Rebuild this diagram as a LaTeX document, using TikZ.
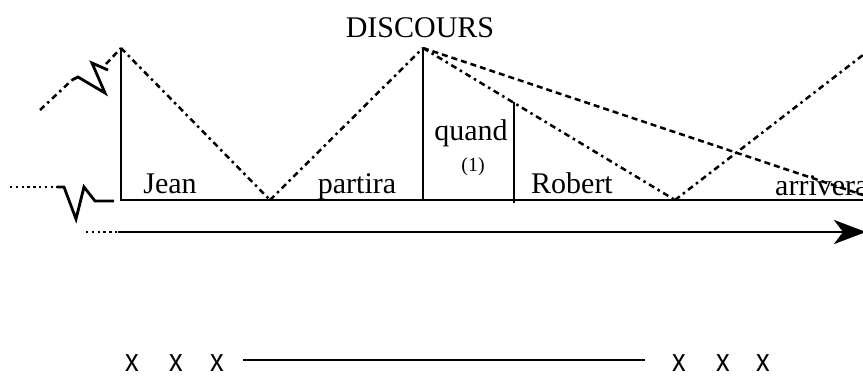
\documentclass[tikz,border=0pt]{standalone}
\usepackage{fontspec}
\setmainfont{Liberation Serif}
\newfontfamily\xsans{Liberation Sans}
\usetikzlibrary{arrows.meta}
\tikzset{
  solidline/.style={line width=2.8pt, line cap=butt},
  dashdotline/.style={line width=2.5pt, dash pattern=on 6pt off 4pt on 2.5pt off 4pt},
  dashline/.style={line width=2.5pt, dash pattern=on 6pt off 4pt},
  dotline/.style={line width=2.3pt, dash pattern=on 2.3pt off 3.5pt},
  word/.style={font=\fontsize{30}{30}\selectfont, inner sep=0pt, anchor=base},
  small/.style={font=\fontsize{20}{20}\selectfont, inner sep=0pt, anchor=base},
  xmark/.style={font=\xsans\fontsize{32}{32}\selectfont, inner sep=0pt, anchor=base},
}
\begin{document}
\begin{tikzpicture}[x=1pt,y=-1pt]
\useasboundingbox (0,0) rectangle (863,376);
\clip (0,0) rectangle (863,376);
% key points
\coordinate (jtop) at (121,48);
\coordinate (jbot) at (121,200);
\coordinate (v1) at (270,200);
\coordinate (dtop) at (423,48);
\coordinate (dbot) at (423,200);
\coordinate (rtop) at (514,102);
\coordinate (rbot) at (514,203);
\coordinate (v2) at (675,200);
\coordinate (eR) at (863,200);
\coordinate (up) at (863,55);
\coordinate (far) at (863,195);
% left break on upper line
\coordinate (ul0) at (40,110);
\coordinate (ul1) at (72,80);
\coordinate (ul2) at (105,93);
\coordinate (ul3) at (92,63);
\coordinate (ul4) at (108,70);
\coordinate (ul5) at (106,64);
\draw[dashdotline] (ul0) -- (ul1);
\draw[solidline, line join=miter] (ul1) -- (78,77) -- (ul2) -- (ul3) -- (ul4);
\draw[dashline] (ul5) -- (jtop);
% left break on baseline
\coordinate (bl0) at (10,187);
\coordinate (bl1) at (57,187);
\coordinate (bl2) at (114,201);
\draw[dotline] (bl0) -- (bl1);
\draw[solidline, line join=miter] (bl1) -- (64,187) -- (76,219) -- (84,187) -- (95,201) -- (bl2);
% baseline and verticals
\draw[solidline] (jtop) -- (jbot) -- (eR);
\draw[solidline] (dtop) -- (dbot);
\draw[solidline] (rtop) -- (rbot);
% dashed diagonals
\draw[dashdotline] (jtop) -- (v1);
\draw[dashdotline] (v1) -- (dtop);
\draw[dashdotline] (dtop) -- (v2);
\draw[dashline] (dtop) -- (far);
\draw[dashdotline] (v2) -- (up);
% time arrow
\coordinate (a0) at (86,232);
\coordinate (a1) at (118,232);
\coordinate (a2) at (866,232);
\draw[dotline] (a0) -- (a1);
\draw[solidline, -{Stealth[length=32pt,width=24pt,inset=9pt]}] (a1) -- (a2);
% labels
\node[word] (disc) at (420,37) {DISCOURS};
\node[word] (jean) at (170,193) {Jean};
\node[word] (part) at (357,193) {partira};
\node[word] (quand) at (471,140) {quand};
\node[small] (one) at (473,171) {(1)};
\node[word] (rob) at (572,193) {Robert};
\node[word, anchor=base west] (arr) at (775,195) {arrivera};
% bottom line
\node[xmark] (x1) at (132,371) {\scalebox{0.85}[1]{x}};
\node[xmark] (x2) at (176,371) {\scalebox{0.85}[1]{x}};
\node[xmark] (x3) at (217,371) {\scalebox{0.85}[1]{x}};
\node[xmark] (x4) at (679,371) {\scalebox{0.85}[1]{x}};
\node[xmark] (x5) at (723,371) {\scalebox{0.85}[1]{x}};
\node[xmark] (x6) at (763,371) {\scalebox{0.85}[1]{x}};
\coordinate (b0) at (243,360);
\coordinate (b1) at (645,360);
\draw[solidline] (b0) -- (b1);
\end{tikzpicture}
\end{document}
